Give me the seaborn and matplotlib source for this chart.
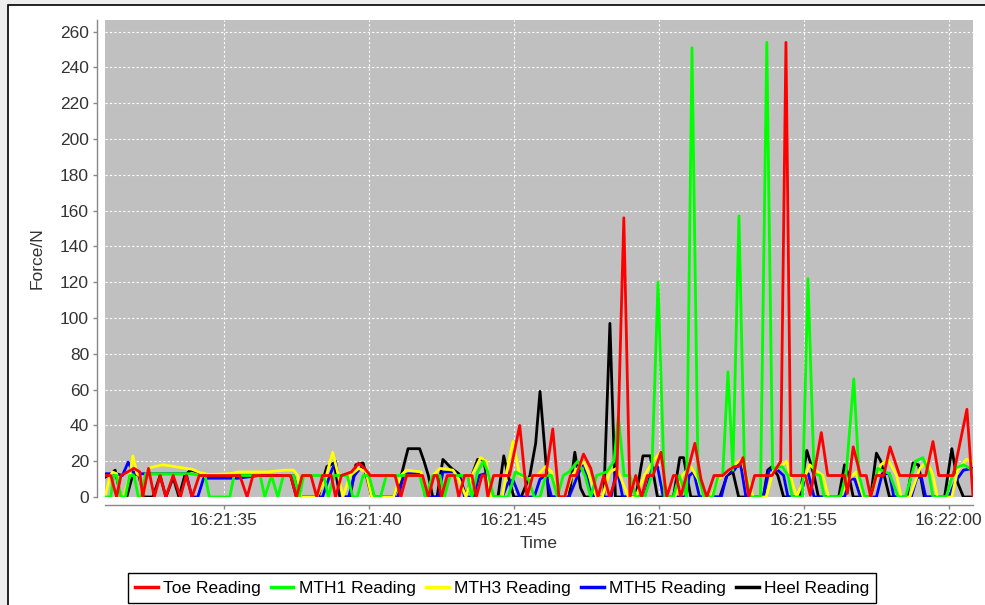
import numpy as np
import pandas as pd
import matplotlib
matplotlib.use("Agg")
import matplotlib.pyplot as plt
import matplotlib.dates as mdates
from matplotlib.patches import Rectangle
from matplotlib.lines import Line2D
import seaborn as sns

# ---------------- data (seconds after 16:21:30, force in N) ----------------
toe_t = [0.9, 1.1, 1.3, 1.45, 1.9, 2.1, 2.2, 2.4, 2.6, 2.8, 3.0, 3.25, 3.5, 3.7, 3.9, 4.15,
         5.55, 5.8, 6.0, 7.3, 7.5, 7.7, 8.0, 8.2, 8.4, 8.7, 8.85, 9.05, 9.4, 9.65, 9.85, 10.05,
         10.9, 11.1, 11.3, 11.85, 12.05, 12.25, 12.35, 12.5, 12.7, 12.95, 13.1, 13.3, 13.55,
         13.7, 13.9, 14.0, 14.1, 14.3, 14.85, 15.2, 15.45, 15.65, 15.9, 16.1, 16.34, 16.55,
         16.75, 16.95, 17.15, 17.4, 17.65, 17.9, 18.1, 18.3, 18.55, 18.79, 19.0, 19.2, 19.4,
         19.6, 19.8, 20.07, 20.27, 20.5, 20.6, 20.75, 20.95, 21.24, 21.45, 21.65, 21.9, 22.2,
         22.4, 22.6, 22.75, 22.9, 23.1, 23.3, 23.9, 24.05, 24.2, 24.38, 24.55, 25.05, 25.22,
         25.6, 25.82, 26.4, 26.5, 26.7, 26.95, 27.15, 27.3, 27.5, 27.75, 27.97, 28.3, 29.2,
         29.45, 29.65, 30.15, 30.62, 30.83]
toe_v = [12, 12, 0, 12, 16, 14, 0, 16, 0, 12, 0, 12, 0, 12, 0, 12,
         12, 0, 12, 12, 0, 12, 12, 0, 12, 12, 0, 12, 14, 19, 16, 12,
         12, 0, 12, 12, 0, 12, 12, 0, 12, 12, 0, 12, 12,
         0, 12, 12, 0, 12, 12, 40, 0, 12, 12, 12, 38, 0,
         0, 12, 12, 24, 16, 0, 12, 0, 12, 156, 0, 12, 0,
         12, 12, 25, 0, 12, 12, 0, 12, 30, 10, 0, 12, 12,
         15, 17, 17, 22, 0, 12, 12, 16, 20, 254, 12, 12, 1,
         36, 12, 12, 2, 28, 12, 12, 0, 12, 12, 28, 12, 12,
         31, 12, 12, 49, 0]

mth1_t = [0.9, 1.1, 1.2, 1.3, 1.45, 1.6, 1.75, 1.9, 2.05, 2.15, 2.3, 3.85, 4.2, 4.35, 4.5,
          5.2, 5.35, 6.25, 6.41, 6.64, 6.86, 7.05, 7.4, 7.6, 7.75, 8.45, 8.6, 8.8, 9.25,
          9.45, 9.6, 9.8, 10.0, 10.2, 10.4, 10.6, 11.75, 11.95, 12.2, 12.45, 12.6, 12.8,
          13.4, 13.55, 13.75, 13.95, 14.1, 14.3, 14.8, 15.05, 15.3, 15.5, 15.7, 15.9, 16.1,
          16.3, 16.5, 16.7, 16.9, 17.2, 17.45, 17.65, 17.85, 18.2, 18.45, 18.6, 18.8, 19.0,
          19.2, 19.5, 19.75, 19.97, 20.2, 20.5, 20.7, 20.95, 21.14, 21.35, 21.55, 21.85,
          22.05, 22.2, 22.38, 22.55, 22.76, 22.95, 23.15, 23.5, 23.72, 23.92, 24.25, 24.45,
          24.6, 24.95, 25.14, 25.35, 25.55, 25.7, 26.25, 26.45, 26.72, 26.9, 27.1, 27.3,
          27.55, 27.95, 28.25, 28.5, 28.85, 29.1, 29.3, 29.45, 29.9, 30.2, 30.5, 30.83]
mth1_v = [0, 0, 12, 12, 0, 0, 12, 12, 0, 0, 13, 13, 12, 12, 0,
          0, 12, 12, 0, 12, 0, 12, 12, 0, 12, 12, 0, 12, 12,
          0, 0, 12, 12, 0, 0, 12, 12, 0, 12, 12, 0, 12,
          12, 0, 14, 20, 14, 0, 0, 14, 12, 10, 0, 0, 12,
          12, 0, 12, 14, 20, 12, 0, 12, 14, 20, 45, 12, 12,
          0, 0, 12, 120, 0, 0, 12, 0, 251, 12, 0, 0,
          12, 12, 70, 15, 157, 16, 0, 0, 254, 16, 17, 12,
          0, 0, 122, 13, 12, 0, 0, 12, 66, 12, 0, 0,
          16, 13, 0, 0, 20, 22, 14, 0, 0, 16, 18, 15]

mth3_t = [0.9, 1.05, 1.15, 1.3, 1.45, 1.55, 1.75, 1.86, 2.0, 2.1, 2.2, 2.4, 2.6, 2.9, 3.3,
          3.7, 3.9, 4.2, 4.5, 5.2, 5.5, 6.5, 7.1, 7.4, 7.55, 7.65, 8.2, 8.5, 8.75, 8.95,
          9.1, 9.35, 9.65, 9.9, 10.1, 10.85, 11.1, 11.3, 11.8, 12.0, 12.2, 12.45, 12.9,
          13.1, 13.35, 13.55, 13.85, 14.05, 14.2, 14.6, 14.8, 14.97, 15.2, 15.5, 15.8,
          16.1, 16.3, 16.5, 16.75, 17.0, 17.4, 17.6, 17.85, 18.05, 18.3, 18.55, 18.75,
          18.95, 19.2, 19.5, 19.8, 20.05, 20.3, 20.55, 20.8, 21.1, 21.35, 21.55, 21.8,
          22.05, 22.3, 22.6, 22.85, 23.05, 23.25, 23.7, 23.95, 24.2, 24.4, 24.6, 24.75,
          24.95, 25.2, 25.4, 25.65, 25.85, 26.25, 26.55, 26.8, 27.05, 27.3, 27.65, 27.9,
          28.2, 28.35, 28.65, 29.0, 29.25, 29.45, 29.6, 30.1, 30.3, 30.6, 30.83]
mth3_v = [0, 10, 14, 13, 0, 0, 12, 23, 13, 12, 0, 16, 17, 18, 17,
          16, 15.5, 13.5, 12.5, 13, 14, 14, 15, 15, 12, 0, 0, 10, 25, 12,
          0, 12, 16, 14, 0, 0, 12, 15, 14, 0, 12, 16, 15,
          10, 0, 12, 22, 20, 0, 0, 18, 31, 12, 10, 12,
          17, 14, 0, 0, 12, 20, 12, 0, 0, 14, 16, 8,
          0, 0, 12, 20, 25, 0, 0, 12, 17, 10, 0, 0,
          10, 13, 18, 21, 10, 0, 0, 15, 17, 20, 8, 0,
          8, 18, 15, 12, 0, 0, 10, 14, 0, 0, 18, 21,
          12, 0, 0, 16, 20, 12, 0, 0, 15, 21, 20]

mth5_t = [0.9, 1.3, 1.5, 1.7, 1.85, 2.1, 3.7, 3.9, 4.1, 4.3, 5.5, 6.2, 7.4, 7.6, 8.4, 8.65,
          8.85, 9.05, 9.3, 9.5, 9.75, 9.95, 10.15, 11.0, 11.2, 11.35, 11.8, 11.95, 12.4,
          12.55, 12.95, 13.15, 13.3, 13.6, 13.8, 14.0, 14.15, 14.6, 14.8, 14.97, 15.2,
          15.7, 15.9, 16.1, 16.3, 16.9, 17.2, 17.4, 17.6, 17.75, 18.35, 18.55, 18.75, 19.5,
          19.75, 19.95, 20.15, 20.9, 21.05, 21.2, 21.4, 22.15, 22.35, 22.6, 22.8, 23.0,
          23.6, 23.8, 24.1, 24.3, 24.45, 24.9, 25.05, 25.15, 25.35, 26.4, 26.6, 26.75,
          26.95, 27.5, 27.7, 27.95, 28.1, 28.7, 28.9, 29.05, 29.2, 30.0, 30.2, 30.5, 30.83]
mth5_v = [13, 13, 12, 19.5, 14, 13, 13, 0, 0, 10.5, 10.5, 12, 12, 0, 0, 12,
          20, 0, 0, 12, 17, 12, 0, 0, 12, 13, 13, 0, 0,
          14, 14, 10, 0, 0, 12, 13, 0, 0, 8, 9.5, 0,
          0, 10, 12, 0, 0, 12, 20, 5, 0, 0, 16, 0, 0,
          15, 17, 0, 0, 12, 14, 0, 0, 13, 15, 20, 0,
          0, 15, 15, 12, 0, 0, 13, 13, 0, 0, 10, 10,
          0, 0, 13, 13, 0, 0, 11, 11, 0, 0, 8, 15, 16]

heel_t = [0.9, 1.1, 1.25, 1.45, 1.65, 1.85, 2.05, 2.25, 2.55, 2.8, 3.0, 3.25, 3.45, 3.65,
          3.85, 4.1, 4.3, 7.3, 7.5, 8.25, 8.55, 8.8, 9.0, 9.35, 9.55, 9.8, 10.1, 10.85,
          11.05, 11.35, 11.75, 11.9, 12.05, 12.2, 12.35, 12.55, 12.85, 13.1, 13.35, 13.55,
          13.75, 13.95, 14.2, 14.45, 14.65, 14.8, 15.0, 15.25, 15.55, 15.75, 15.9, 16.1,
          16.2, 16.9, 17.1, 17.3, 17.45, 18.1, 18.31, 18.5, 19.2, 19.45, 19.7, 19.95, 20.5,
          20.72, 20.85, 21.1, 22.1, 22.35, 22.55, 22.75, 23.6, 23.75, 23.9, 24.1, 24.3,
          24.85, 25.1, 25.35, 25.5, 26.2, 26.4, 26.55, 26.7, 27.3, 27.5, 27.65, 27.95,
          28.55, 28.76, 28.95, 29.15, 29.85, 30.1, 30.3, 30.5, 30.83]
heel_v = [11, 13, 15, 0, 0, 12, 13, 0, 0, 12, 0, 11, 0, 12,
          15, 14, 12, 12, 0, 0, 17, 19, 0, 0, 18, 19, 0, 0,
          8, 27, 27, 20, 12, 0, 0, 21, 16, 13, 0, 12,
          21, 21, 0, 0, 23, 12, 0, 0, 12, 30, 59, 20,
          0, 0, 25, 5, 0, 0, 97, 0, 0, 23, 23, 0, 0,
          22, 22, 0, 0, 12, 14, 0, 0, 15, 17, 12, 0,
          0, 26, 12, 0, 0, 18, 12, 0, 0, 24.5, 20, 0,
          0, 19, 18, 0, 0, 27, 8, 0, 0]

series_names = ["Toe Reading", "MTH1 Reading", "MTH3 Reading", "MTH5 Reading", "Heel Reading"]
series_colors = ["#ff0000", "#00ff00", "#ffff00", "#0000ff", "#000000"]
series_t = [toe_t, mth1_t, mth3_t, mth5_t, heel_t]
series_v = [toe_v, mth1_v, mth3_v, mth5_v, heel_v]

base_time = pd.Timestamp("2013-01-01 16:21:30")
x_start, x_end = 0.9, 30.83
y_max = 266.5

frames = []
for name, ts, vs in zip(series_names, series_t, series_v):
    frames.append(pd.DataFrame({
        "Time": base_time + pd.to_timedelta(np.array(ts), unit="s"),
        "Force": vs,
        "Series": name,
    }))
df = pd.concat(frames, ignore_index=True)

# ---------------- figure ----------------
plt.rcParams["font.family"] = ["Liberation Sans", "DejaVu Sans"]
W, H = 985, 605
fig = plt.figure(figsize=(W / 100, H / 100), dpi=100)
fig.patch.set_facecolor("#eeeeee")
fig.patches.append(Rectangle((8 / W, -0.1), 1.2, (H - 5.5) / H + 0.1,
                             transform=fig.transFigure, facecolor="white",
                             edgecolor="black", linewidth=1.2, zorder=-10))

ax = fig.add_axes([105 / W, (H - 497) / H, 868 / W, 477 / H])
ax.set_facecolor("#c0c0c0")

# draw in reverse order so the Toe series ends on top
for name, color in reversed(list(zip(series_names, series_colors))):
    sub = df[df["Series"] == name]
    sns.lineplot(data=sub, x="Time", y="Force", color=color, linewidth=2.0,
                 estimator=None, sort=True, ax=ax, legend=False)

ax.set_xlim(base_time + pd.Timedelta(seconds=x_start), base_time + pd.Timedelta(seconds=x_end))
ax.set_ylim(0, y_max)
ax.set_yticks(np.arange(0, 261, 20))
ax.xaxis.set_major_locator(mdates.SecondLocator(bysecond=range(0, 60, 5)))
ax.xaxis.set_major_formatter(mdates.DateFormatter("%H:%M:%S"))

ax.grid(True, color="white", linestyle=(0, (2, 2)), linewidth=0.8)
ax.set_axisbelow(True)

for side in ["top", "right"]:
    ax.spines[side].set_visible(False)
for side in ["left", "bottom"]:
    ax.spines[side].set_position(("outward", 5.5))
    ax.spines[side].set_color("#888888")
    ax.spines[side].set_linewidth(1.0)

ax.tick_params(axis="both", colors="#888888", length=3, width=1,
               labelsize=12.5, labelcolor="#333333", pad=3)

ax.set_xlabel("Time", fontsize=12.5, color="#333333", labelpad=6)
ax.set_ylabel("Force/N", fontsize=12.5, color="#333333", labelpad=11)

handles = [Line2D([0], [0], color=c, linewidth=2.5) for c in series_colors]
leg = fig.legend(handles, series_names, loc="center", bbox_to_anchor=(502 / W, (H - 588) / H),
                 ncol=5, fontsize=12.5, frameon=True, fancybox=False, shadow=False,
                 handlelength=1.3, handletextpad=0.3, columnspacing=0.6,
                 borderpad=0.4, borderaxespad=0)
leg.get_frame().set_edgecolor("black")
leg.get_frame().set_linewidth(1.0)
leg.get_frame().set_facecolor("white")
leg.get_frame().set_alpha(1)

fig.savefig("out.png", dpi=100, facecolor=fig.get_facecolor())
